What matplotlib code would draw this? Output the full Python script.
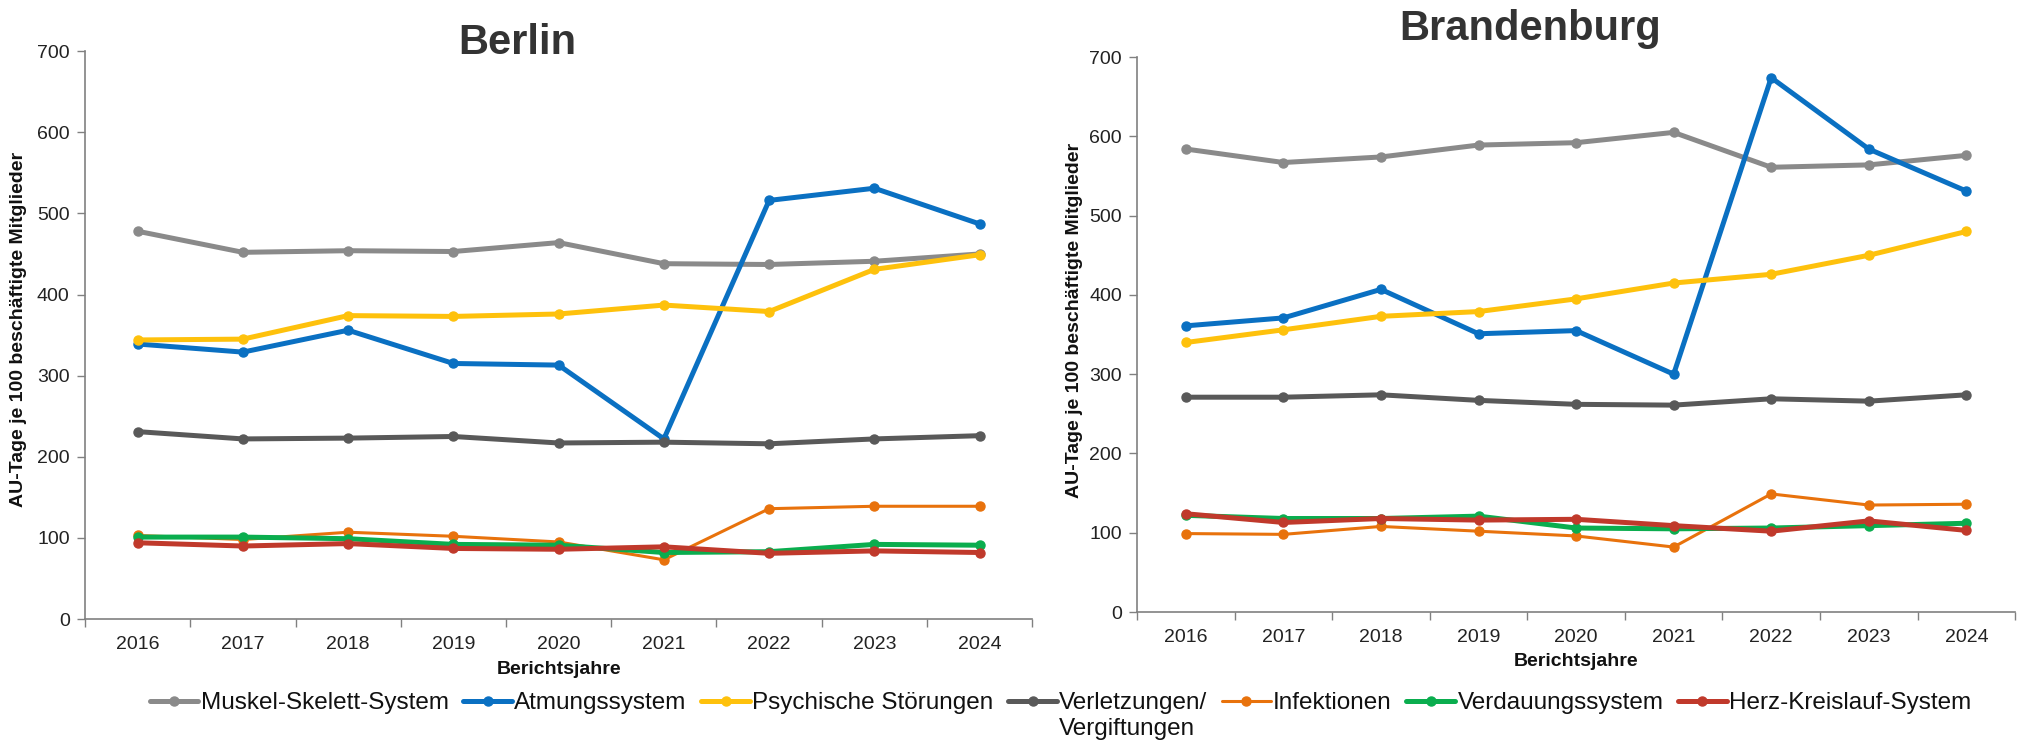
#!/usr/bin/env python3
"""AU-Tage je 100 beschäftigte Mitglieder nach Diagnosegruppen, Berlin vs. Brandenburg."""

import matplotlib
matplotlib.use("Agg")
import matplotlib.pyplot as plt
from matplotlib import font_manager

years = ["2016", "2017", "2018", "2019", "2020", "2021", "2022", "2023", "2024"]

series_names = [
    "Muskel-Skelett-System",
    "Atmungssystem",
    "Psychische Störungen",
    "Verletzungen/",
    "Infektionen",
    "Verdauungssystem",
    "Herz-Kreislauf-System",
]

# Berlin
berlin_muskel = [478, 452, 454, 453, 464, 438, 437, 441, 450]
berlin_atmung = [339, 329, 356, 315, 313, 222, 516, 531, 487]
berlin_psyche = [344, 345, 374, 373, 376, 387, 379, 431, 449]
berlin_verletz = [231, 222, 223, 225, 217, 218, 216, 222, 226]
berlin_infekt = [103, 98, 107, 102, 95, 73, 136, 139, 139]
berlin_verdau = [101, 101, 99, 92, 91, 82, 83, 92, 91]
berlin_herz = [94, 90, 93, 87, 86, 89, 81, 84, 82]

# Brandenburg
brb_muskel = [584, 567, 574, 589, 592, 605, 561, 564, 576]
brb_atmung = [361, 371, 407, 351, 355, 300, 674, 584, 531]
brb_psyche = [340, 356, 373, 379, 395, 415, 426, 450, 480]
brb_verletz = [271, 271, 274, 267, 262, 261, 269, 266, 274]
brb_infekt = [99, 98, 108, 102, 96, 82, 149, 135, 136]
brb_verdau = [122, 118, 118, 121, 106, 105, 106, 109, 112]
brb_herz = [124, 113, 118, 116, 117, 109, 102, 115, 103]

colors = ["#8a8a8a", "#0a70c2", "#fec10c", "#595959", "#e8720c", "#0aad4e", "#c0392b"]
widths = [3.6, 3.6, 3.6, 3.6, 2.2, 3.6, 3.6]


def pick(names):
    avail = {f.name for f in font_manager.fontManager.ttflist}
    for n in names:
        if n in avail:
            return n
    return "DejaVu Sans"


regular = pick(["Liberation Sans", "DejaVu Sans"])
plt.rcParams["font.family"] = regular

fig = plt.figure(figsize=(20.24, 7.41), dpi=100)
ax_l = fig.add_axes([0.042, 0.1646, 0.468, 0.7664])
ax_r = fig.add_axes([0.5618, 0.174, 0.4338, 0.749])

panels = [
    (ax_l, [berlin_muskel, berlin_atmung, berlin_psyche, berlin_verletz,
            berlin_infekt, berlin_verdau, berlin_herz], (-0.061, 0.51)),
    (ax_r, [brb_muskel, brb_atmung, brb_psyche, brb_verletz,
            brb_infekt, brb_verdau, brb_herz], (-0.0615, 0.525)),
]

x = list(range(len(years)))
handles = []
for ax, data, ylab_pos in panels:
    lines = []
    for vals, c, lw, name in zip(data, colors, widths, series_names):
        ln, = ax.plot(x, vals, color=c, lw=lw, marker="o", ms=6.5,
                      solid_capstyle="round", label=name)
        lines.append(ln)
    handles = lines
    ax.set_xlim(-0.5, len(years) - 0.5)
    ax.set_ylim(0, 700)
    ax.set_yticks(range(0, 701, 100))
    ax.set_xticks(x)
    ax.set_xticklabels(years)
    ax.set_xticks([i - 0.5 for i in range(len(years) + 1)], minor=True)
    ax.tick_params(axis="x", which="major", length=0, pad=12, labelsize=14, labelcolor="#222222")
    ax.tick_params(axis="x", which="minor", length=6, width=1, color="#808080")
    ax.tick_params(axis="y", length=6, width=1, color="#808080", labelsize=14,
                   labelcolor="#222222", pad=5)
    for s in ["top", "right"]:
        ax.spines[s].set_visible(False)
    for s in ["left", "bottom"]:
        ax.spines[s].set_color("#808080")
        ax.spines[s].set_linewidth(1.2)
    ax.set_xlabel("Berichtsjahre", fontsize=14, fontweight="bold", color="#111111")
    ax.xaxis.set_label_coords(0.5, -0.074)
    ax.set_ylabel("AU-Tage je 100 beschäftigte Mitglieder", fontsize=14,
                  fontweight="bold", color="#111111")
    ax.yaxis.set_label_coords(*ylab_pos)

fig.text(517 / 2024, 1 - 54 / 741, "Berlin", ha="center", va="baseline",
         fontsize=30, fontweight="bold", color="#333333")
fig.text(1530 / 2024, 1 - 40 / 741, "Brandenburg", ha="center", va="baseline",
         fontsize=30, fontweight="bold", color="#333333")

leg = fig.legend(handles=handles, loc="center", bbox_to_anchor=(0.524, 1 - 703 / 741),
                 ncol=7, frameon=False, prop={"size": 17.5},
                 handlelength=2.0, handletextpad=0.1, columnspacing=0.6,
                 borderaxespad=0, borderpad=0)
for t in leg.get_texts():
    t.set_color("#111111")

fig.canvas.draw()
bb = leg.get_texts()[3].get_window_extent()
fig.text(bb.x0 / fig.bbox.width, 1 - 729 / 741, "Vergiftungen", ha="left", va="center",
         fontsize=17.5, color="#111111")

fig.savefig("out.png", dpi=100)
